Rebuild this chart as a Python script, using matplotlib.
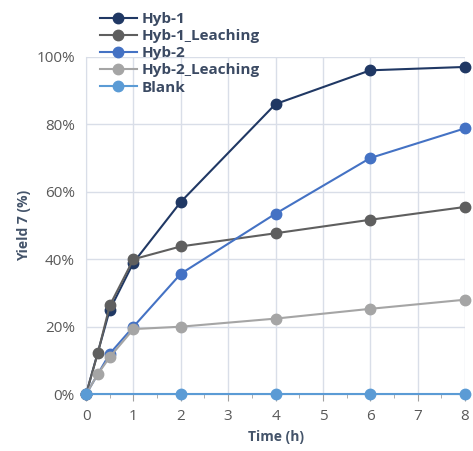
import matplotlib
matplotlib.use("Agg")
import matplotlib.pyplot as plt
from matplotlib.ticker import PercentFormatter, MultipleLocator

plt.rcParams['font.family'] = ['Open Sans', 'DejaVu Sans']

t_hyb1 = [0, 0.5, 1, 2, 4, 6, 8]
y_hyb1 = [0, 25, 39, 57, 86, 96, 97]
t_hyb1l = [0, 0.25, 0.5, 1, 2, 4, 6, 8]
y_hyb1l = [0, 12.3, 26.3, 40, 43.8, 47.7, 51.7, 55.5]
t_hyb2 = [0, 0.5, 1, 2, 4, 6, 8]
y_hyb2 = [0, 12, 20, 35.7, 53.5, 70, 78.8]
t_hyb2l = [0, 0.25, 0.5, 1, 2, 4, 6, 8]
y_hyb2l = [0, 6, 11, 19.3, 20, 22.4, 25.3, 28]
t_blank = [0, 2, 4, 6, 8]
y_blank = [0, 0, 0, 0, 0]

series = [
    ("Hyb-1", t_hyb1, y_hyb1, "#203864"),
    ("Hyb-1_Leaching", t_hyb1l, y_hyb1l, "#5f5f5f"),
    ("Hyb-2", t_hyb2, y_hyb2, "#4472C4"),
    ("Hyb-2_Leaching", t_hyb2l, y_hyb2l, "#A5A5A5"),
    ("Blank", t_blank, y_blank, "#5B9BD5"),
]

fig = plt.figure(figsize=(4.73, 4.51), dpi=100)
ax = fig.add_axes([0.182, 0.126, 0.801, 0.748])

for name, t, y, c in series:
    ax.plot(t, y, color=c, lw=1.5, marker='o', ms=7.5, label=name, clip_on=False, zorder=3)

ax.set_xlim(0, 8)
ax.set_ylim(0, 100)
ax.yaxis.set_major_locator(MultipleLocator(20))
ax.yaxis.set_major_formatter(PercentFormatter(decimals=0))
ax.xaxis.set_major_locator(MultipleLocator(1))
ax.xaxis.set_minor_locator(MultipleLocator(0.5))
ax.grid(True, which='major', color='#D9DEE8', lw=1)
ax.set_axisbelow(True)
for s in ['top', 'right']:
    ax.spines[s].set_visible(False)
ax.spines['left'].set_color('#D9DEE8')
ax.spines['bottom'].set_color('#A0A0A0')
ax.tick_params(axis='y', length=0, labelsize=11, labelcolor='#595959', pad=8)
ax.tick_params(axis='x', which='major', length=5, color='#A0A0A0', labelsize=11, labelcolor='#595959', pad=6)
ax.tick_params(axis='x', which='minor', length=3, color='#A0A0A0')

ax.set_xlabel("Time (h)", fontsize=10, fontweight='bold', color='#44546A')
ax.set_ylabel("Yield 7 (%)", fontsize=10, fontweight='bold', color='#44546A')

leg = ax.legend(loc='upper left', bbox_to_anchor=(0.037, 1.132), frameon=False,
                fontsize=11, handlelength=2.4, handletextpad=0.3,
                labelspacing=0.2, borderaxespad=0, borderpad=0)
for txt in leg.get_texts():
    txt.set_color('#3b4a63')
    txt.set_fontweight('bold')

fig.savefig("out.png", dpi=100)
